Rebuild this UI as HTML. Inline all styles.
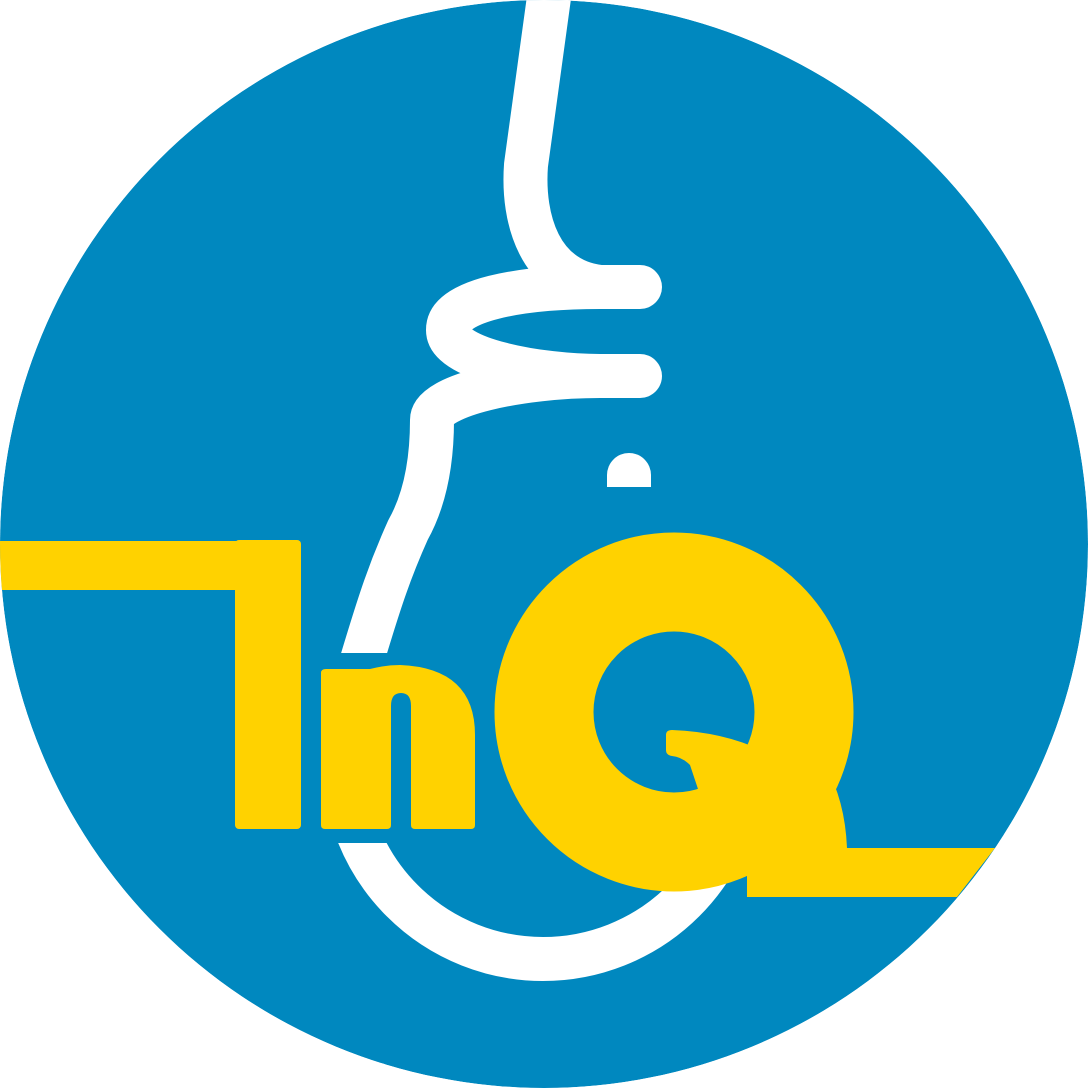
<!DOCTYPE html>
<html><head><meta charset="utf-8"><style>
html,body{margin:0;padding:0;background:#fff;width:1088px;height:1088px;overflow:hidden}
</style></head><body>
<svg width="1088" height="1088" viewBox="0 0 1088 1088" xmlns="http://www.w3.org/2000/svg">
<title>InQ</title>
<defs>
<clipPath id="circ"><circle cx="544" cy="544" r="544"/></clipPath>
<clipPath id="top"><rect x="0" y="0" width="1088" height="653"/></clipPath>
<clipPath id="bot"><polygon points="0,843 600,843 600,880 1088,880 1088,1088 0,1088"/></clipPath>
</defs>
<g clip-path="url(#circ)">
<circle cx="544" cy="544" r="544" fill="#0088BF"/>
<g clip-path="url(#top)" fill="none" stroke="#fff" stroke-width="44" stroke-linecap="round" stroke-linejoin="round">
<path d="M550,-10 L526,165 C522,220 540,280 600,287 L640,287"/>
<path d="M600,287 C520,287 448,300 448,330 C448,360 540,376 600,376 L640,376"/>
<path d="M600,376 C520,376 432,395 432,420 C432,470 422,505 408,530 C390,570 380,600 362,660" stroke-linecap="butt"/>
</g>
<path d="M607,487 V475 A22,22 0 0 1 651,475 V487 Z" fill="#fff"/>
<g clip-path="url(#bot)">
<circle cx="543" cy="760" r="199" fill="none" stroke="#fff" stroke-width="44"/>
</g>
<g fill="#FFD200">
<polygon points="0,541 240,541 240,590 0,590"/>
<rect x="235" y="540" width="66" height="289" rx="4"/>
<path d="M321,673 Q321,669 326,669 H370 Q385,665 400,665 Q475,668 475,735 V825 Q475,829 471,829 H415 Q411,829 411,825 V706 Q411,693 401,693 Q391,693 391,706 V825 Q391,829 387,829 H325 Q321,829 321,825 Z"/>
<circle cx="674" cy="712" r="130" fill="none" stroke="#FFD200" stroke-width="99"/>
<path d="M666,735 Q666,730 672,730 Q725,732 765,752 L780,800 L700,795 L690,765 Q682,757 672,756 Q666,755 666,750 Z"/>
<path d="M747,845 L747,897 H957 L995,848 H847 Q845,800 825,765 L760,790 Z"/>
</g>
</g>
</svg>
</body></html>
